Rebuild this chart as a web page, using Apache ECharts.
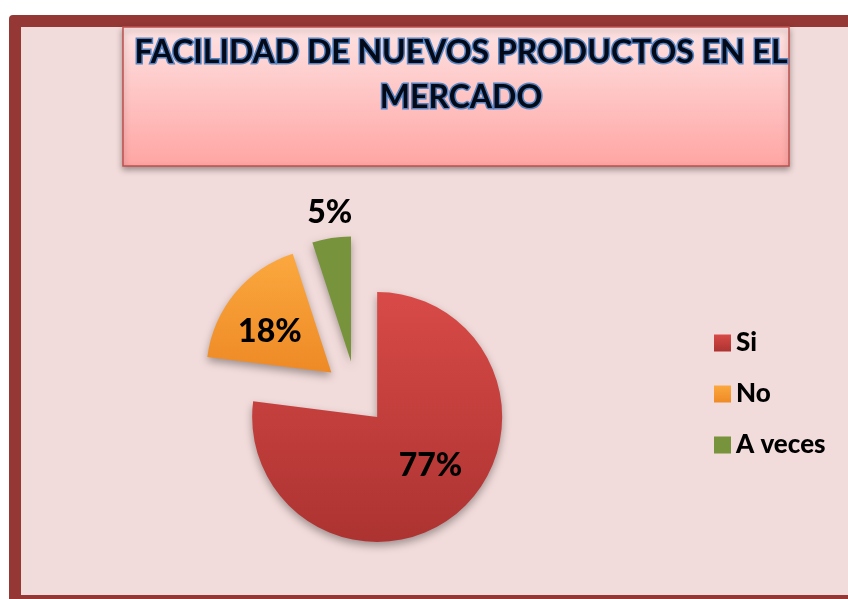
<!DOCTYPE html>
<html><head><meta charset="utf-8">
<script src="https://cdn.jsdelivr.net/npm/echarts@6/dist/echarts.min.js"></script>
<style>html,body{margin:0;padding:0;background:#fff;}#c{width:848px;height:599px;}</style>
</head><body><div id="c"></div>
<script>
const titleText = 'FACILIDAD DE NUEVOS PRODUCTOS EN EL\nMERCADO';
const categories = ['Si', 'No', 'A veces'];
const values = [77, 18, 5];

const FONT = 'Lato';
const grad = (a, b) => ({type: 'linear', x: 0, y: 0, x2: 0, y2: 1, colorStops: [{offset: 0, color: a}, {offset: 1, color: b}]});
const sliceColors = [grad('#d84a47', '#ac3331'), grad('#fba83f', '#ee8a26'), '#77933c'];
const labelShift = [[10, 0], [-11, 1], [-11, -84]];

const chart = echarts.init(document.getElementById('c'), null, {renderer: 'canvas'});
chart.setOption({
  animation: false,
  backgroundColor: '#ffffff',
  graphic: [
    {type: 'rect', z: -10, shape: {x: 9, y: 15, width: 900, height: 600, r: 4}, style: {fill: '#953735'}},
    {type: 'rect', z: -9, shape: {x: 21, y: 27, width: 900, height: 568}, style: {fill: '#f2dcdb'}},
    {type: 'rect', z: -8, shape: {x: 123, y: 27, width: 666, height: 139},
      style: {fill: grad('#fde3e3', '#ffa5a3'), stroke: '#c0504d', lineWidth: 1.5,
        shadowBlur: 6, shadowOffsetY: 3, shadowColor: 'rgba(0,0,0,0.35)'}}
  ],
  title: {
    text: titleText,
    left: 456, top: 25, textAlign: 'center',
    textStyle: {fontFamily: FONT, fontWeight: 'bold', fontSize: 32, lineHeight: 45,
      color: '#050a18', textBorderColor: '#5585c4', textBorderWidth: 3}
  },
  legend: {
    orient: 'vertical', left: 709, top: 325,
    itemWidth: 17, itemHeight: 17, itemGap: 25, icon: 'rect',
    data: categories,
    textStyle: {fontFamily: FONT, fontWeight: 900, fontSize: 26, lineHeight: 26, color: '#000'}
  },
  series: [{
    type: 'pie',
    center: [356, 393], radius: 125,
    startAngle: 90, clockwise: true,
    selectedMode: 'multiple', selectedOffset: 32,
    avoidLabelOverlap: false,
    labelLine: {show: false},
    emphasis: {disabled: true},
    itemStyle: {shadowBlur: 8, shadowOffsetY: 4, shadowColor: 'rgba(0,0,0,0.35)'},
    label: {position: 'inside', formatter: '{c}%', fontFamily: FONT, fontWeight: 900, fontSize: 32, color: '#000'},
    labelLayout: p => ({dx: labelShift[p.dataIndex][0], dy: labelShift[p.dataIndex][1]}),
    data: categories.map((n, i) => ({
      name: n, value: values[i], selected: true,
      itemStyle: {color: sliceColors[i]},
      select: {itemStyle: {color: sliceColors[i], borderWidth: 0}}
    }))
  }]
});
</script></body></html>
